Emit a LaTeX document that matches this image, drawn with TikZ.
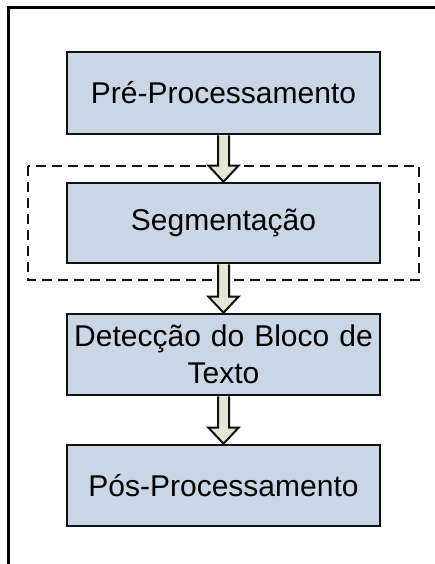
\documentclass[tikz,border=0pt]{standalone}
\usepackage{fontspec}
\setmainfont{Liberation Sans}
\usetikzlibrary{calc}
\definecolor{boxfill}{HTML}{C9D6E6}
\definecolor{arrowfill}{HTML}{E3E7D4}
\definecolor{inkline}{HTML}{111111}
\tikzset{
  stepbox/.style={draw=inkline, line width=2.6pt, fill=boxfill,
    minimum width=313pt, inner sep=0pt, align=center, text width=307pt,
    font=\fontsize{30}{37}\selectfont},
  flowarrow/.style={draw=inkline, line width=2pt, fill=arrowfill, line join=miter},
  groupframe/.style={draw=inkline, line width=1.4pt, dash pattern=on 10pt off 6pt},
  outerframe/.style={draw=black, line width=3pt}
}
\begin{document}
\begin{tikzpicture}[x=1pt,y=-1pt]
  \useasboundingbox (0,0) rectangle (435,564);
  % outer frame (top and left edges)
  \draw[outerframe] (440,8) -- (8,8) -- (8,570);
  % group around the segmentation step
  \draw[groupframe] (28,166) rectangle (419,280);
  % process steps
  \node[stepbox, minimum height=82pt] (pre) at (223.5,93) {Pré-Processamento};
  \node[stepbox, minimum height=80pt] (seg) at (223.5,223) {Segmentação};
  \node[stepbox, minimum height=81pt] (det) at (223.5,354.5) {Detecção do Bloco de\\Texto};
  \node[stepbox, minimum height=81pt] (pos) at (223.5,485.5) {Pós-Processamento};
  % block arrows between steps
  \foreach \a/\b in {pre/seg, seg/det, det/pos}{
    \draw[flowarrow]
      ($(\a.south)+(-5.5,0)$) -- ($(\b.north)+(-5.5,-16)$) -- ($(\b.north)+(-15,-16)$)
      -- (\b.north)
      -- ($(\b.north)+(15,-16)$) -- ($(\b.north)+(5.5,-16)$) -- ($(\a.south)+(5.5,0)$);
  }
\end{tikzpicture}
\end{document}
